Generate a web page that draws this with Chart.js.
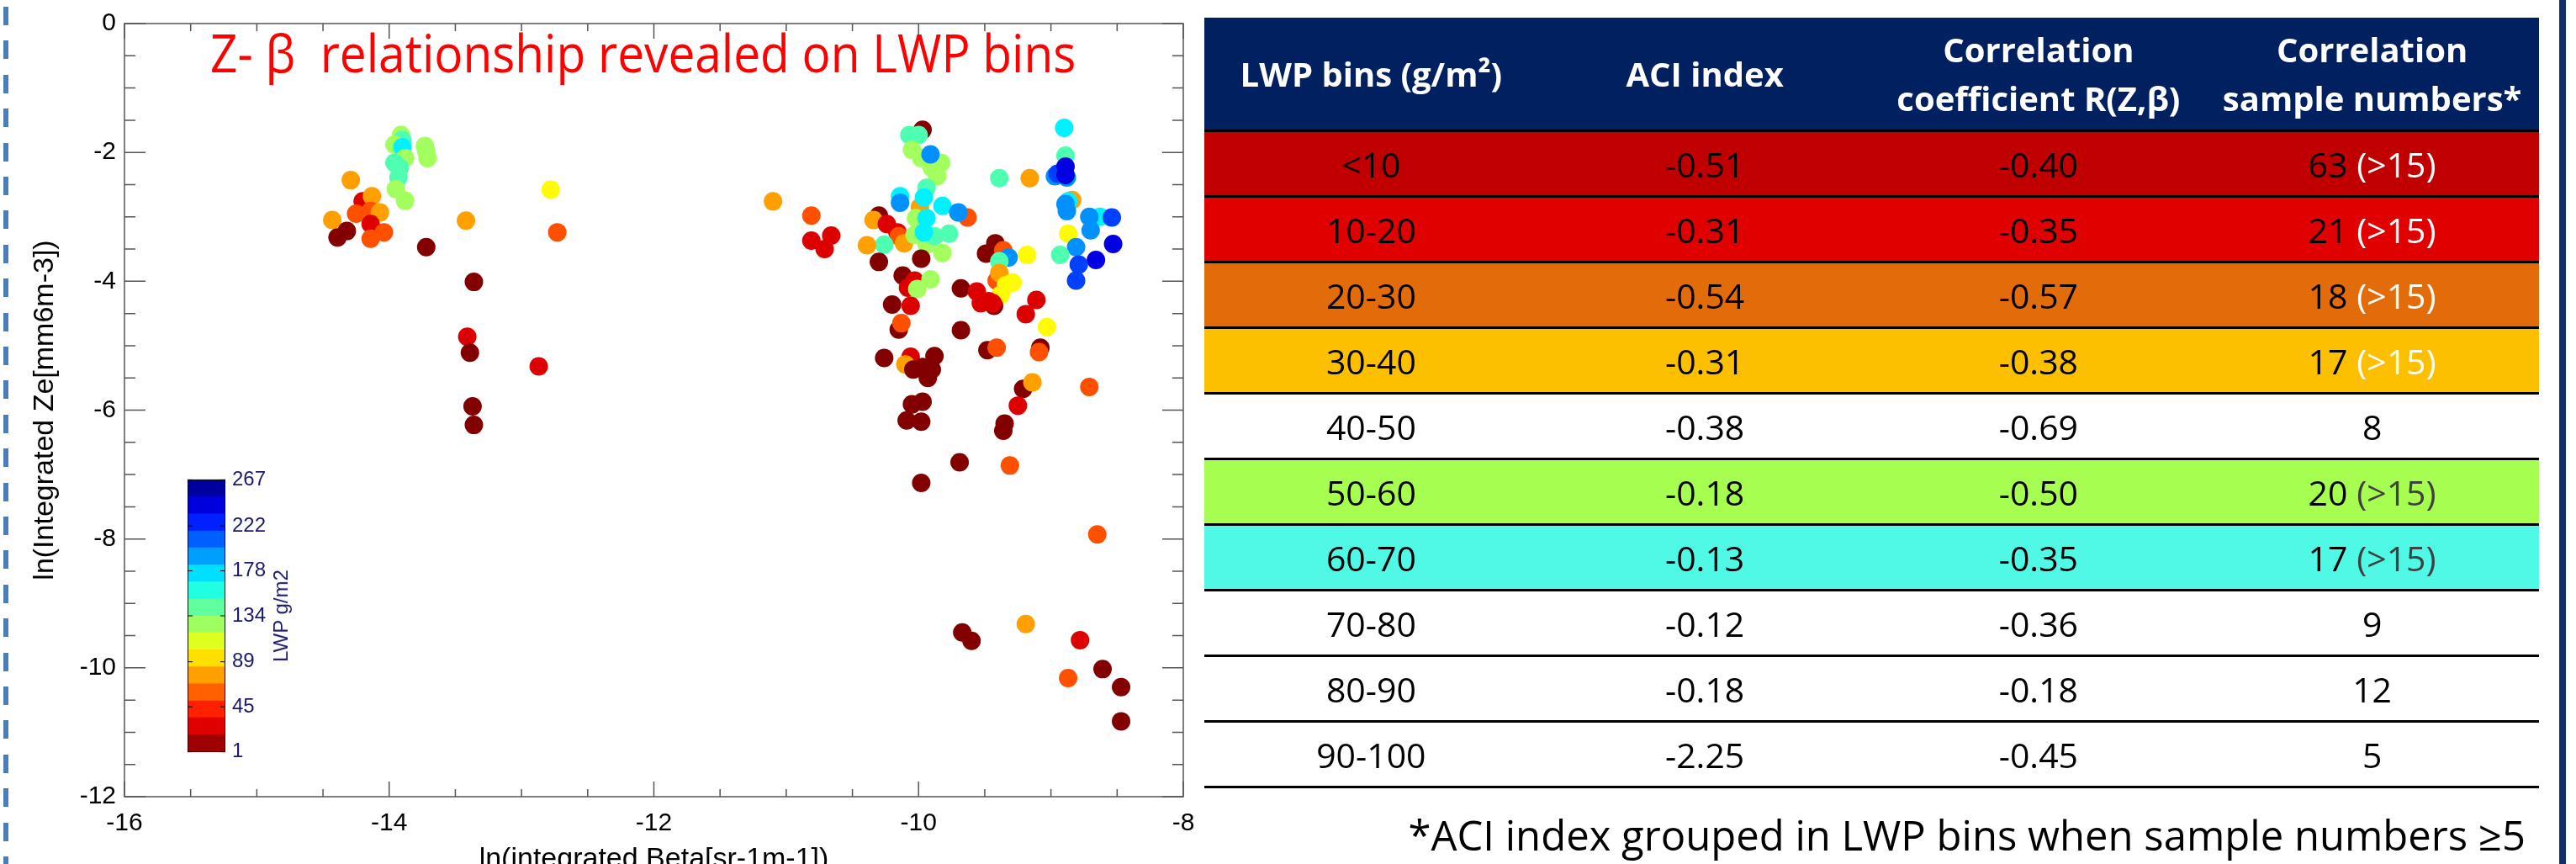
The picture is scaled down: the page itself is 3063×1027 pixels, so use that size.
<!DOCTYPE html>
<html>
<head>
<meta charset="utf-8">
<script src="https://cdn.jsdelivr.net/npm/chart.js@4.4.1/dist/chart.umd.min.js"></script>
<style>
  html, body { margin: 0; padding: 0; background: #fff; }
  body { width: 3063px; height: 1027px; overflow: hidden; position: relative; font-family: "Open Sans", sans-serif; }
  #dash { position: absolute; left: 4px; top: 8px; width: 6px; height: 1019px;
          background: repeating-linear-gradient(to bottom, #4A7EBB 0px, #4A7EBB 22px, transparent 22px, transparent 40.4px); }
  #navy { position: absolute; left: 3043px; top: 0; width: 8px; height: 1027px; background: #12306e; }
  #scatter { position: absolute; left: 0; top: 0; }
  #cbar { position: absolute; left: 223px; top: 548px; }
  #cbTitle { position: absolute; left: 334px; top: 732px; transform: translate(-50%, -50%) rotate(-90deg);
             white-space: nowrap; font: 24px "Liberation Sans", Arial, sans-serif; color: #191970; }
  #title { position: absolute; left: 250px; top: 31px; font-size: 62px; line-height: 62px; color: #ff0000;
           white-space: nowrap; transform: scaleX(0.916); transform-origin: left top; }
  #tbl { position: absolute; left: 1432px; top: 21px; width: 1587px; }
  .head { height: 133px; background: #002060; display: flex; align-items: center; color: #fff; font-weight: bold; font-size: 40px; line-height: 58px; }
  .row { height: 78px; box-sizing: border-box; border-top: 3px solid #000; display: flex; align-items: center; font-size: 41px; color: #000; }
  .row.last { height: 81px; border-bottom: 3px solid #000; }
  .cell { flex: 1; text-align: center; white-space: nowrap; }
  #note { position: absolute; right: 60px; top: 968px; font-size: 49px; line-height: 49px; color: #000; white-space: nowrap; }
</style>
</head>
<body>
<div id="dash"></div>
<canvas id="scatter" width="1460" height="1060"></canvas>
<div id="title">Z- β&nbsp; relationship revealed on LWP bins</div>
<canvas id="cbar" width="200" height="368"></canvas>
<div id="cbTitle">LWP g/m2</div>
<div id="tbl"></div>
<div id="note">*ACI index grouped in LWP bins when sample numbers ≥5</div>
<div id="navy"></div>
<script>
// scatter: ln(integrated beta), ln(integrated Ze), LWP (g/m2)
const betaLn = [
  -13.91, -13.90, -13.96, -13.90, -13.88, -13.73, -13.72, -13.71, -13.96, -13.92,
  -13.93, -13.95, -13.88, -14.29, -14.20, -14.13, -14.25, -14.14, -14.07, -14.43,
  -14.14, -14.32, -14.39, -14.04, -14.14, -13.72, -13.42, -12.78, -12.73, -13.36,
  -13.41, -13.39, -12.87, -13.37, -13.36,
  -11.10, -10.81, -10.81, -10.66, -10.71, -9.97, -10.07, -10.00, -10.05, -9.98,
  -9.83, -9.90, -9.86, -9.91, -9.94, -10.14, -10.14, -9.99, -9.96, -9.82,
  -9.63, -9.70, -10.30, -10.34, -10.24, -10.16, -10.15, -10.11, -10.26, -10.39,
  -10.02, -10.03, -9.94, -9.82, -9.88, -9.77, -9.94, -9.96, -10.30, -9.98,
  -10.12, -10.03, -10.08, -9.91, -10.01, -9.68, -9.56, -9.53, -9.49, -10.20,
  -10.06, -10.15, -10.13, -9.68, -9.48, -9.41, -10.26, -10.06, -10.10, -9.88,
  -9.97, -10.04, -9.90, -9.93, -9.97, -10.05, -10.09, -9.98, -9.69, -9.98,
  -8.90, -8.89, -9.39, -9.16, -8.97, -8.95, -8.88, -8.89, -8.89, -8.84,
  -8.87, -8.89, -8.88, -8.63, -8.71, -8.54, -8.70, -8.87, -8.53, -8.81,
  -8.93, -9.18, -8.66, -8.79, -8.81, -9.42, -9.36, -9.32, -9.39, -9.41,
  -9.39, -9.29, -9.34, -9.38, -9.11, -9.43, -9.47, -9.44, -9.19, -9.03,
  -9.08, -9.09, -9.21, -9.14, -9.25, -9.35, -9.36, -9.31, -8.71,
  -8.65, -9.67, -9.60, -9.19, -8.78, -8.87, -8.61, -8.47, -8.47
];
const zeLn = [
  -1.73, -1.81, -1.88, -1.92, -2.09, -1.90, -1.98, -2.09, -2.16, -2.24,
  -2.39, -2.57, -2.75, -2.43, -2.76, -2.68, -2.95, -2.91, -2.93, -3.05,
  -3.11, -3.22, -3.32, -3.24, -3.34, -3.47, -3.06, -2.58, -3.24, -4.01,
  -4.86, -5.11, -5.32, -5.94, -6.23,
  -2.76, -2.98, -3.37, -3.29, -3.50, -1.65, -1.73, -1.73, -1.96, -2.09,
  -2.16, -2.24, -2.37, -2.03, -2.55, -2.68, -2.78, -2.85, -2.70, -2.83,
  -3.01, -2.93, -2.98, -3.05, -3.11, -3.24, -3.30, -3.41, -3.43, -3.44,
  -3.02, -3.28, -3.43, -3.56, -3.30, -3.26, -3.02, -3.24, -3.70, -3.65,
  -3.91, -3.99, -4.10, -3.97, -4.12, -4.11, -4.16, -4.34, -3.57, -4.36,
  -4.38, -4.75, -4.65, -4.76, -5.07, -5.03, -5.19, -5.17, -5.29, -5.16,
  -5.33, -5.37, -5.37, -5.50, -5.87, -5.91, -6.16, -6.18, -6.81, -7.13,
  -1.62, -2.05, -2.40, -2.40, -2.37, -2.33, -2.39, -2.22, -2.35, -2.74,
  -2.76, -2.80, -2.91, -3.00, -3.00, -3.01, -3.21, -3.26, -3.42, -3.47,
  -3.59, -3.59, -3.67, -3.74, -3.99, -3.41, -3.52, -3.63, -3.69, -3.99,
  -3.87, -4.02, -4.06, -4.21, -4.29, -4.38, -4.31, -4.34, -4.51, -4.71,
  -5.03, -5.10, -5.67, -5.57, -5.93, -6.21, -6.32, -6.86, -5.64,
  -7.93, -9.45, -9.58, -9.32, -9.57, -10.16, -10.02, -10.30, -10.83
];
const lwp = [
  125, 147, 125, 171, 125, 125, 125, 125, 147, 147,
  147, 125, 125, 76, 25, 76, 55, 55, 76, 76,
  25, 2, 2, 55, 55, 2, 76, 100, 55, 2,
  25, 2, 25, 2, 2,
  76, 55, 25, 25, 25, 2, 147, 147, 125, 125,
  125, 125, 125, 196, 147, 171, 196, 76, 171, 171,
  55, 196, 2, 76, 25, 25, 55, 76, 147, 76,
  125, 125, 125, 125, 147, 147, 171, 171, 2, 2,
  2, 25, 25, 125, 125, 2, 25, 25, 2, 2,
  25, 2, 55, 2, 2, 55, 2, 25, 76, 2,
  2, 2, 2, 2, 2, 2, 2, 2, 2, 2,
  171, 147, 147, 76, 196, 217, 196, 241, 241, 76,
  171, 196, 196, 171, 196, 217, 196, 100, 241, 196,
  147, 100, 241, 217, 217, 2, 55, 196, 147, 55,
  76, 100, 100, 100, 25, 2, 25, 25, 25, 100,
  2, 55, 2, 76, 25, 2, 2, 55, 55,
  55, 2, 2, 76, 25, 55, 2, 2, 2
];

// colorbar
const lwpMin = 1, lwpMax = 267;
const cbTicks = [1, 45, 89, 134, 178, 222, 267];
const cbLevels = 16;

// table
const lwpBins = ['<10', '10-20', '20-30', '30-40', '40-50', '50-60', '60-70', '70-80', '80-90', '90-100'];
const aciIndex = [-0.51, -0.31, -0.54, -0.31, -0.38, -0.18, -0.13, -0.12, -0.18, -2.25];
const corrR = [-0.40, -0.35, -0.57, -0.38, -0.69, -0.50, -0.35, -0.36, -0.18, -0.45];
const sampleNums = [63, 21, 18, 17, 8, 20, 17, 9, 12, 5];
const headers = ['LWP bins (g/m²)', 'ACI index', 'Correlation<br>coefficient R(Z,β)', 'Correlation<br>sample numbers*'];

const rowFill = ['#C00000', '#E10000', '#E36C0A', '#FDC000', 'transparent', '#A6FF50', '#50F8E6', 'transparent', 'transparent', 'transparent'];
const noteColor = ['#fff', '#fff', '#fff', '#fff', '#000', '#404040', '#404040', '#000', '#000', '#000'];

function jet(v) {
  const t = 1 - (v - lwpMin) / (lwpMax - lwpMin);
  const c = k => Math.round(255 * Math.min(1, Math.max(0, k)));
  return `rgb(${c(1.5 - Math.abs(4 * t - 3))},${c(1.5 - Math.abs(4 * t - 2))},${c(1.5 - Math.abs(4 * t - 1))})`;
}

const axisFont = "'Liberation Sans', Arial, sans-serif";

// frame and inward ticks, matlab style
const boxTicks = {
  id: 'boxTicks',
  afterDraw(chart) {
    const { ctx, chartArea: a, scales: { x, y } } = chart;
    ctx.save();
    ctx.strokeStyle = '#555';
    ctx.lineWidth = 1.5;
    ctx.strokeRect(a.left, a.top, a.right - a.left, a.bottom - a.top);
    ctx.beginPath();
    for (let v = x.min; v <= x.max + 1e-6; v += 0.5) {
      const px = x.getPixelForValue(v);
      const len = Math.abs(v % 2) < 1e-6 ? 18 : 9;
      ctx.moveTo(px, a.bottom); ctx.lineTo(px, a.bottom - len);
      ctx.moveTo(px, a.top); ctx.lineTo(px, a.top + len);
    }
    for (let v = y.min; v <= y.max + 1e-6; v += 0.5) {
      const py = y.getPixelForValue(v);
      const len = Math.abs(v % 2) < 1e-6 ? 25 : 13;
      ctx.moveTo(a.left, py); ctx.lineTo(a.left + len, py);
      ctx.moveTo(a.right, py); ctx.lineTo(a.right - len, py);
    }
    ctx.stroke();
    ctx.restore();
  }
};

new Chart(document.getElementById('scatter'), {
  type: 'scatter',
  data: {
    datasets: [{
      data: betaLn.map((b, i) => ({ x: b, y: zeLn[i] })),
      pointBackgroundColor: lwp.map(jet),
      pointBorderWidth: 0,
      pointRadius: 11,
      pointHoverRadius: 11
    }]
  },
  options: {
    responsive: false,
    animation: false,
    layout: { padding: { top: 20, right: 53, left: 0, bottom: 0 } },
    plugins: { legend: { display: false }, tooltip: { enabled: false } },
    scales: {
      x: {
        type: 'linear', min: -16, max: -8,
        ticks: { stepSize: 2, color: '#000', padding: 14, font: { family: axisFont, size: 30 } },
        grid: { display: false, drawTicks: false },
        border: { display: false },
        title: { display: true, text: 'ln(integrated Beta[sr-1m-1])', color: '#000',
                 font: { family: axisFont, size: 34 }, padding: { top: 0, bottom: 18 } },
        afterFit(s) { s.height = 113; }
      },
      y: {
        type: 'linear', min: -12, max: 0,
        ticks: { stepSize: 2, color: '#000', padding: 10, font: { family: axisFont, size: 30 } },
        grid: { display: false, drawTicks: false },
        border: { display: false },
        title: { display: true, text: 'ln(Integrated Ze[mm6m-3])', color: '#000',
                 font: { family: axisFont, size: 34 }, padding: { top: 33, bottom: 0 } },
        afterFit(s) { s.width = 148; }
      }
    }
  },
  plugins: [boxTicks]
});

// colorbar as floating bars
const cbOutline = {
  id: 'cbOutline',
  afterDraw(chart) {
    const { ctx, chartArea: a, scales: { y } } = chart;
    ctx.save();
    ctx.strokeStyle = '#000';
    ctx.lineWidth = 1;
    ctx.strokeRect(a.left + 0.5, a.top, a.right - a.left - 1, a.bottom - a.top);
    ctx.beginPath();
    cbTicks.forEach(v => {
      const py = y.getPixelForValue(v);
      ctx.moveTo(a.left, py); ctx.lineTo(a.left + 6, py);
      ctx.moveTo(a.right, py); ctx.lineTo(a.right - 6, py);
    });
    ctx.stroke();
    ctx.restore();
  }
};

const step = (lwpMax - lwpMin) / cbLevels;
const cbSets = [];
for (let k = 0; k < cbLevels; k++) {
  const lo = lwpMin + k * step;
  cbSets.push({
    data: [[lo, lo + step]],
    backgroundColor: jet(lo + step / 2),
    borderWidth: 0,
    grouped: false,
    barPercentage: 1,
    categoryPercentage: 1
  });
}

new Chart(document.getElementById('cbar'), {
  type: 'bar',
  data: { labels: [''], datasets: cbSets },
  options: {
    responsive: false,
    animation: false,
    layout: { padding: { top: 20, bottom: 20, left: 0, right: 0 } },
    plugins: { legend: { display: false }, tooltip: { enabled: false } },
    scales: {
      x: { display: false },
      y: {
        position: 'right', min: lwpMin, max: lwpMax,
        afterBuildTicks(s) { s.ticks = cbTicks.map(v => ({ value: v })); },
        ticks: { autoSkip: false, color: '#191970', padding: 8, font: { family: axisFont, size: 24 } },
        grid: { display: false, drawTicks: false },
        border: { display: false },
        afterFit(s) { s.width = 155; }
      }
    }
  },
  plugins: [cbOutline]
});

// table
const tbl = document.getElementById('tbl');
let html = '<div class="head">' + headers.map(h => `<div class="cell">${h}</div>`).join('') + '</div>';
lwpBins.forEach((bin, i) => {
  const n = sampleNums[i];
  const nTxt = n > 15 ? `${n} <span style="color:${noteColor[i]}">(&gt;15)</span>` : `${n}`;
  html += `<div class="row${i === lwpBins.length - 1 ? ' last' : ''}" style="background:${rowFill[i]}">` +
    `<div class="cell">${bin.replace('<', '&lt;')}</div>` +
    `<div class="cell">${aciIndex[i].toFixed(2)}</div>` +
    `<div class="cell">${corrR[i].toFixed(2)}</div>` +
    `<div class="cell">${nTxt}</div></div>`;
});
tbl.innerHTML = html;
</script>
</body>
</html>
